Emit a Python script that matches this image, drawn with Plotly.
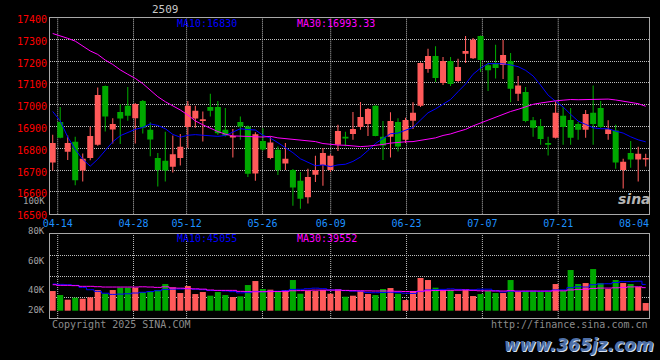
import plotly.graph_objects as go

# ---------------- data ----------------
dates = [
    "04-11", "04-14", "04-15", "04-16", "04-17", "04-18", "04-21", "04-22", "04-23", "04-24",
    "04-25", "04-28", "04-29", "04-30", "05-06", "05-07", "05-08", "05-09", "05-12", "05-13",
    "05-14", "05-15", "05-16", "05-19", "05-20", "05-21", "05-22", "05-23", "05-26", "05-27",
    "05-28", "05-29", "05-30", "06-03", "06-04", "06-05", "06-06", "06-09", "06-10", "06-11",
    "06-12", "06-13", "06-16", "06-17", "06-18", "06-19", "06-20", "06-23", "06-24", "06-25",
    "06-26", "06-27", "06-30", "07-01", "07-02", "07-03", "07-04", "07-07", "07-08", "07-09",
    "07-10", "07-11", "07-14", "07-15", "07-16", "07-17", "07-18", "07-21", "07-22", "07-23",
    "07-24", "07-25", "07-28", "07-29", "07-30", "07-31", "08-01", "08-04", "08-05", "08-06",
]

opens = [
    16735, 16921, 16784, 16830, 16698, 16756, 16817, 17086, 16886, 16967,
    16996, 16938, 17017, 16885, 16756, 16743, 16715, 16756, 16898, 16937,
    16926, 16990, 16990, 16885, 16850, 16921, 16900, 16685, 16834, 16756,
    16793, 16730, 16701, 16651, 16575, 16679, 16723, 16701, 16816, 16853,
    16866, 16898, 16912, 16995, 16853, 16853, 16921, 16839, 16927, 16996,
    17164, 17224, 17100, 17201, 17109, 17234, 17214, 17315, 17181, 17190,
    17182, 17201, 17050, 17059, 16929, 16903, 16825, 16848, 16949, 16930,
    16912, 16885, 16963, 16985, 16866, 16882, 16701, 16779, 16749, 16749,
]
highs = [
    16862, 16990, 16859, 16853, 16776, 16900, 17079, 17088, 16938, 17002,
    17082, 17008, 17022, 16920, 16779, 16876, 16859, 16866, 17017, 16995,
    16969, 17050, 17017, 16985, 16889, 16946, 16905, 16874, 16892, 16854,
    16808, 16825, 16705, 16691, 16706, 16766, 16801, 16773, 16908, 16876,
    16967, 17013, 16985, 16998, 16926, 16966, 16938, 16940, 17011, 17195,
    17257, 17269, 17219, 17219, 17211, 17315, 17306, 17318, 17196, 17275,
    17297, 17237, 17132, 17082, 16944, 16935, 16853, 17017, 16990, 16985,
    16921, 16976, 17088, 17017, 16929, 16908, 16752, 16834, 16807, 16775,
]
lows = [
    16698, 16846, 16747, 16630, 16648, 16745, 16812, 16877, 16822, 16820,
    16927, 16822, 16868, 16764, 16625, 16648, 16689, 16721, 16801, 16895,
    16831, 16946, 16862, 16854, 16758, 16839, 16669, 16651, 16790, 16750,
    16678, 16701, 16536, 16523, 16547, 16645, 16628, 16691, 16788, 16810,
    16839, 16885, 16857, 16855, 16747, 16758, 16785, 16824, 16889, 16990,
    17147, 17105, 17091, 17086, 17105, 17192, 17210, 17150, 17063, 17120,
    17118, 17011, 17017, 16920, 16853, 16817, 16767, 16845, 16817, 16817,
    16839, 16848, 16817, 16895, 16839, 16706, 16616, 16711, 16648, 16717,
]
closes = [
    16825, 16848, 16825, 16653, 16752, 16857, 17045, 16946, 16912, 16937,
    16949, 17004, 16895, 16840, 16700, 16698, 16773, 16807, 16995, 16972,
    16934, 16973, 16869, 16859, 16857, 16900, 16683, 16865, 16795, 16827,
    16700, 16752, 16620, 16569, 16669, 16700, 16779, 16766, 16880, 16845,
    16889, 16944, 16981, 16857, 16813, 16926, 16808, 16930, 16963, 17192,
    17224, 17123, 17201, 17095, 17173, 17247, 17298, 17205, 17158, 17169,
    17228, 17074, 17088, 16926, 16895, 16843, 16817, 16963, 16898, 16848,
    16885, 16958, 16912, 16898, 16888, 16735, 16738, 16749, 16775, 16756,
]
ma10 = [
    16969, 16926, 16852, 16795, 16750, 16718, 16750, 16792, 16830, 16858,
    16873, 16887, 16896, 16912, 16905, 16890, 16864, 16851, 16860, 16863,
    16860, 16859, 16855, 16859, 16874, 16890, 16886, 16884, 16860, 16847,
    16826, 16804, 16780, 16752, 16736, 16720, 16724, 16716, 16724, 16727,
    16740, 16760, 16790, 16822, 16845, 16867, 16870, 16883, 16896, 16930,
    16963, 16981, 17003, 17024, 17060, 17095, 17140, 17168, 17189, 17189,
    17188, 17183, 17175, 17158, 17132, 17090, 17044, 17016, 16990, 16956,
    16925, 16910, 16894, 16890, 16890, 16879, 16870, 16853, 16839, 16830,
]
ma30 = [
    17327, 17317, 17305, 17292, 17271, 17247, 17231, 17205, 17185, 17160,
    17140, 17121, 17097, 17068, 17037, 17014, 16996, 16976, 16953, 16926,
    16908, 16892, 16877, 16865, 16857, 16856, 16856, 16853, 16852, 16855,
    16848, 16845, 16842, 16838, 16835, 16831, 16822, 16818, 16815, 16814,
    16810, 16808, 16810, 16813, 16818, 16824, 16828, 16830, 16831, 16836,
    16841, 16848, 16859, 16866, 16877, 16887, 16903, 16916, 16932, 16945,
    16958, 16969, 16979, 16990, 17002, 17008, 17014, 17018, 17021, 17024,
    17023, 17023, 17023, 17024, 17026, 17022, 17017, 17012, 17005, 16993,
]
volumes = [
    33750, 26880, 18880, 22310, 20590, 22880, 35460, 29170, 35460, 39470,
    39470, 39470, 32030, 33750, 35460, 45760, 40040, 30320, 42330, 28600,
    32030, 25740, 32030, 26880, 23450, 24600, 44040, 50910, 37180, 36040,
    33750, 35460, 52620, 29170, 33750, 33750, 35460, 29170, 37180, 24020,
    25740, 33750, 28600, 26880, 37180, 38900, 29170, 18300, 33750, 56060,
    52620, 39470, 33750, 35460, 28600, 35460, 25170, 28600, 33750, 30320,
    30320, 52620, 32030, 33750, 33750, 32030, 32030, 45760, 33750, 69780,
    45760, 47480, 71500, 47480, 37180, 52620, 47480, 45760, 40610, 13160,
]
vol_ma10 = [
    45760, 45200, 44600, 43500, 40000, 36000, 33200, 30000, 28000, 28485,
    29057, 30316, 31631, 32775, 34262, 36550, 37008, 37123, 37810, 36723,
    35979, 34606, 34606, 33919, 32718, 30602, 31002, 33061, 32546, 33290,
    33462, 34434, 36493, 36722, 37752, 38667, 37809, 35635, 35635, 34433,
    33632, 33461, 31059, 30830, 31173, 31688, 31059, 29972, 29629, 32833,
    35521, 36093, 36608, 37466, 36608, 36264, 35864, 36894, 36894, 34320,
    32090, 33405, 33233, 33062, 33577, 33234, 33920, 35636, 35636, 39582,
    41126, 40612, 44559, 45932, 46275, 48334, 49879, 49879, 50565, 45055,
]
vol_ma30 = [
    44600, 43500, 43500, 43000, 41800, 41800, 41200, 40600, 40600, 40600,
    40600, 40600, 41000, 40600, 40000, 41000, 39000, 38600, 38000, 37500,
    37000, 35500, 34900, 34900, 34900, 33200, 32800, 32400, 32600, 32833,
    32833, 33119, 34243, 34472, 34911, 35273, 35273, 35273, 35330, 34815,
    34358, 34167, 34053, 33824, 33881, 33652, 33290, 32889, 32603, 33519,
    34205, 34663, 34720, 35006, 35178, 35540, 34911, 34167, 34053, 33862,
    33748, 34320, 33633, 33786, 33786, 33729, 33614, 34167, 34053, 35578,
    36246, 36703, 38133, 38820, 38820, 39277, 39888, 40803, 41032, 39552,
]
tick_dates = ["04-14", "04-28", "05-12", "05-26", "06-09", "06-23", "07-07", "07-21", "08-04"]
price_ticks = [16500, 16600, 16700, 16800, 16900, 17000, 17100, 17200, 17300, 17400]
vol_labels = ["100K", "80K", "60K", "40K", "20K"]

# ---------------- styling ----------------
W, H = 660, 360
L_PX, R_PX = 50, 649
RED, GREEN = "#FF5A5A", "#00A800"
GRID = "#BEBEBE"
BORDER = "#A8A8A8"
MONO = "DejaVu Sans Mono"

n = len(dates)
idx = list(range(n))
colors = [RED if c >= o else GREEN for o, c in zip(opens, closes)]
body_base = [min(o, c) for o, c in zip(opens, closes)]
body_h = [max(abs(c - o), 5) for o, c in zip(opens, closes)]
wick_h = [h - l for h, l in zip(highs, lows)]

# tick (grid) positions: sina draws its date grid slightly offset from candle slots
tick_pos = [-0.344 + 1.0103 * dates.index(d) for d in tick_dates]

def px_x(px):
    return (px - L_PX) / (R_PX - L_PX)

def px_y(py):
    return (H - py) / H

fig = go.Figure()

# price candles
fig.add_trace(go.Bar(x=idx, y=wick_h, base=lows, width=0.14,
                     marker=dict(color=colors, line_width=0), xaxis="x", yaxis="y"))
fig.add_trace(go.Bar(x=idx, y=body_h, base=body_base, width=0.8,
                     marker=dict(color=colors, line_width=0), xaxis="x", yaxis="y"))
fig.add_trace(go.Scatter(x=idx, y=ma10, mode="lines", line=dict(color="#0000FF", width=1),
                         xaxis="x", yaxis="y"))
fig.add_trace(go.Scatter(x=idx, y=ma30, mode="lines", line=dict(color="#FF00FF", width=1),
                         xaxis="x", yaxis="y"))

# volume
fig.add_trace(go.Bar(x=idx, y=volumes, width=0.8, marker=dict(color=colors, line_width=0),
                     xaxis="x2", yaxis="y2"))
fig.add_trace(go.Scatter(x=idx, y=vol_ma10, mode="lines", line=dict(color="#0000FF", width=1, shape="hvh"),
                         xaxis="x2", yaxis="y2"))
fig.add_trace(go.Scatter(x=idx, y=vol_ma30, mode="lines", line=dict(color="#FF00FF", width=1, shape="hvh"),
                         xaxis="x2", yaxis="y2"))

x_range = [-0.36, 79.44]
vol_range = [-12530, 131100]
vol_grid = [vol_range[0] + k * (vol_range[1] - vol_range[0]) / 4 for k in (1, 2, 3)]

axis_common = dict(showline=True, linecolor=BORDER, linewidth=1, mirror=True, zeroline=False,
                   ticks="", fixedrange=True)

fig.update_layout(
    width=W, height=H, autosize=False,
    margin=dict(l=L_PX, r=W - R_PX, t=0, b=0, pad=0, autoexpand=False),
    paper_bgcolor="black", plot_bgcolor="black",
    showlegend=False, barmode="overlay", hovermode=False,
    xaxis=dict(domain=[0, 1], range=x_range, anchor="y", tickvals=tick_pos, ticktext=tick_dates,
               tickfont=dict(family=MONO, size=10, color="#1E90FF"), showgrid=False, **axis_common),
    yaxis=dict(domain=[px_y(213.7), px_y(17.6)], range=[16500, 17400], anchor="x",
               tickvals=price_ticks, ticktext=[str(v) for v in price_ticks],
               tickfont=dict(family=MONO, size=10, color="#FF0000"), ticklabelshift=2,
               showgrid=True, gridcolor=GRID, gridwidth=1, griddash="1px,1px", **axis_common),
    xaxis2=dict(domain=[0, 1], range=x_range, anchor="y2", showticklabels=False, showgrid=False,
                **axis_common),
    yaxis2=dict(domain=[px_y(318.0), px_y(234.3)], range=vol_range, anchor="x2",
                tickvals=vol_grid, showticklabels=False,
                showgrid=True, gridcolor=GRID, gridwidth=1, griddash="1px,1px", **axis_common),
)

# vertical date grid (sina omits the line at the last label)
shapes = []
for u in tick_pos[:-1]:
    for xr, yr in (("x", "y domain"), ("x2", "y2 domain")):
        shapes.append(dict(type="line", xref=xr, yref=yr, x0=u, x1=u, y0=0, y1=1,
                           line=dict(color=GRID, width=1, dash="1px,1px"), layer="below"))
fig.update_layout(shapes=shapes)

ann = []
def text(s, x, y, color, xanchor="left", size=10, family=MONO, **kw):
    ann.append(dict(text=s, x=x, y=y, xref="paper", yref="paper", xanchor=xanchor, yanchor="middle",
                    showarrow=False, font=dict(family=family, size=size, color=color, **kw)))

text("2509", px_x(165), px_y(9.7), "#C8C8C8", xanchor="center", size=11)
text("MA10:16830", px_x(175), px_y(23.5), "#0000FF")
text("MA30:16993.33", px_x(295), px_y(23.5), "#FF00FF")
text("MA10:45055", px_x(175), px_y(238.5), "#0000FF")
text("MA30:39552", px_x(295), px_y(238.5), "#FF00FF")
for lab, py in zip(vol_labels, (201.0, 231.0, 260.7, 290.0, 310.3)):
    text(lab, px_x(47), px_y(py), "#A0A0A0", xanchor="right", size=9)
text("Copyright 2025 SINA.COM", px_x(50), px_y(324), "#8C8C8C")
text("http://finance.sina.com.cn", px_x(649.5), px_y(324), "#8C8C8C", xanchor="right")
text("sina", px_x(634), px_y(199), "#B4B4B4", xanchor="center", size=14, family="DejaVu Sans",
     weight="bold", style="italic")
text("www.365jz.com", px_x(656), px_y(345), "#4E6FA6", xanchor="right", size=17, family="DejaVu Sans",
     weight="bold", style="italic", shadow="1px 1px 0px #D8E2F2")
fig.update_layout(annotations=ann)

fig.write_html("out.html", config={"displayModeBar": False, "responsive": False, "staticPlot": True},
               default_width="660px", default_height="360px")

# remove the browser's default page margin so the chart fills the window like the reference
with open("out.html", encoding="utf-8") as f:
    html = f.read()
html = html.replace("<head>", "<head><style>html,body{margin:0;padding:0;background:#000;overflow:hidden}</style>", 1)
with open("out.html", "w", encoding="utf-8") as f:
    f.write(html)
